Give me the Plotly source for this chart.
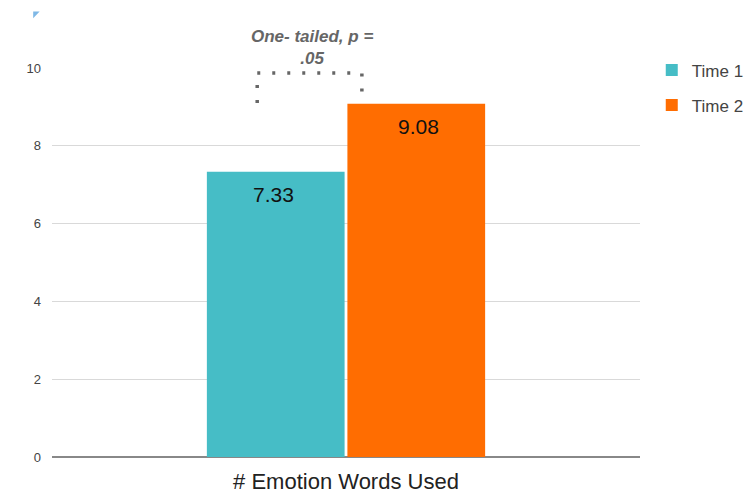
import plotly.graph_objects as go

categories = ["# Emotion Words Used"]
series_names = ["Time 1", "Time 2"]
time1 = [7.33]
time2 = [9.08]
colors = ["#46BDC6", "#FF6D01"]
y_ticks = [0, 2, 4, 6, 8, 10]

FONT = "Liberation Sans, Arial, sans-serif"

fig = go.Figure()
for name, vals, col in zip(series_names, [time1, time2], colors):
    fig.add_trace(go.Bar(
        x=categories, y=vals, name=name, legendgroup=name,
        marker=dict(color=col, line=dict(width=0)),
        hoverinfo="skip",
    ))

# value labels inside bars, near the top
offsets = [-0.1225, 0.1225]
for off, vals in zip(offsets, [time1, time2]):
    for v in vals:
        fig.add_annotation(x=off, xref="x", y=v, yref="y", yshift=-23,
                           text=f"{v:.2f}", showarrow=False,
                           font=dict(size=21, color="#111111", family=FONT))

# bracket (dotted) indicating significance
br_top, br_bot = 9.87, 9.1
xl, xr = -0.151, 0.027
fig.add_shape(type="path", xref="x", yref="y",
              path=f"M {xl},{br_bot} L {xl},{br_top} L {xr},{br_top} L {xr},{br_bot}",
              line=dict(color="#666666", width=3.5, dash="3px,12px"))
fig.add_annotation(x=(xl + xr) / 2, xref="x", y=br_top, yref="y", yshift=26, xshift=2,
                   text="<b><i>One- tailed, p =<br>.05</i></b>", showarrow=False,
                   font=dict(size=17, color="#666666", family=FONT), align="center")

# small corner marker
fig.add_shape(type="path", xref="paper", yref="paper",
              path="M -0.032,1.145 L -0.021,1.145 L -0.032,1.128 Z",
              fillcolor="#7FB8E6", line=dict(width=0))

fig.update_layout(
    width=752, height=493,
    margin=dict(l=52, r=112, t=68, b=36, autoexpand=False),
    paper_bgcolor="white", plot_bgcolor="white",
    barmode="group", bargap=0.522, bargroupgap=0.02,
    font=dict(family=FONT, color="#444444"),
    showlegend=True,
    legend=dict(x=1.02, y=1.04, xanchor="left", yanchor="top",
                font=dict(size=17, color="#444444", family=FONT),
                tracegroupgap=10, bgcolor="rgba(0,0,0,0)"),
    xaxis=dict(showgrid=False, showline=False, tickfont=dict(size=22, color="#222222"),
               ticks="outside", ticklen=5, tickcolor="rgba(0,0,0,0)"),
    yaxis=dict(range=[0, 10], tickvals=y_ticks, showgrid=True, gridcolor="#D9D9D9",
               gridwidth=1, zeroline=True, zerolinecolor="#888888", zerolinewidth=1.5,
               tickfont=dict(size=13, color="#444444"), ticks="", ticklabelstandoff=10),
)

fig.write_html("out.html")
